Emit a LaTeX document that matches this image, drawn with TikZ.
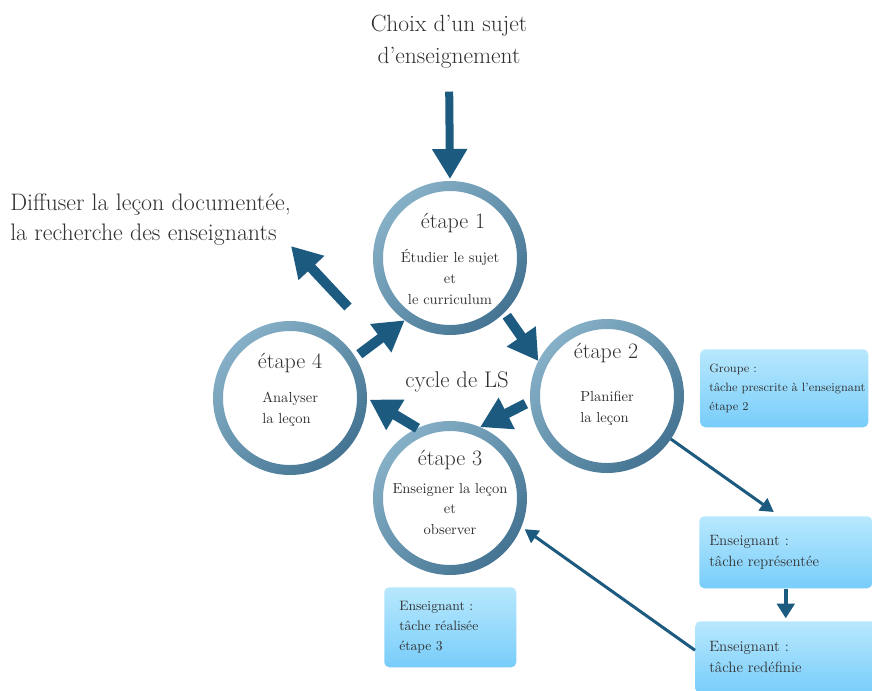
\documentclass[tikz,border=0pt]{standalone}
\usepackage{fontspec}
\usetikzlibrary{arrows.meta,calc}
\definecolor{ringlight}{RGB}{134,176,199}
\definecolor{ringdark}{RGB}{68,116,146}
\definecolor{arrowc}{RGB}{28,90,128}
\definecolor{boxtop}{RGB}{184,232,253}
\definecolor{boxbot}{RGB}{120,205,250}
\definecolor{txt}{RGB}{48,48,48}
\begin{document}
\begin{tikzpicture}[x=0.75pt,y=-0.75pt,
  every node/.style={text=txt, inner sep=0pt},
  stage/.style={circle, minimum size=115.5pt, outer sep=0pt},
  bigtxt/.style={font=\fontsize{17.6}{24}\selectfont},
  steptitle/.style={font=\fontsize{16.5}{18}\selectfont},
  steptext/.style={font=\fontsize{10.9}{15.5}\selectfont, align=center},
  infobox/.style={rectangle, rounded corners=3.75pt, top color=boxtop, bottom color=boxbot, align=left, anchor=north west},
  bigarrow/.style={draw=arrowc, line width=7.5pt, -{Triangle[length=22.5pt,width=25pt]}},
  thinarrow/.style={draw=arrowc, line width=2.25pt, -{Triangle[length=10pt,width=11pt]}}
]
\useasboundingbox (0,0) rectangle (872,690);
\fill[white] (0,0) rectangle (872,690);

% stage circles
\node[stage] (c1) at (450,258) {};
\node[stage] (c2) at (607,396) {};
\node[stage] (c3) at (450,498) {};
\node[stage] (c4) at (290,398) {};
\foreach \c in {c1,c2,c3,c4}
  \shade[even odd rule, top color=ringlight, bottom color=ringdark, shading angle=45]
    (\c) circle (57.75pt) (\c) circle (50.25pt);

% stage texts
\node[steptitle] (t1) at (453,223) {étape 1};
\node[steptext] (b1) at (450,277) {Étudier le sujet\\et\\le curriculum};
\node[steptitle] (t2) at (606,353) {étape 2};
\node[steptext, align=left, anchor=west] (b2) at (580,408) {Planifier\\la leçon};
\node[steptitle] (t3) at (450,460) {étape 3};
\node[steptext] (b3) at (450,509) {Enseigner la leçon\\et\\observer};
\node[steptitle] (t4) at (290,363) {étape 4};
\node[steptext, align=left, anchor=west] (b4) at (262,409) {Analyser\\la leçon};
\node[font=\fontsize{17}{20}\selectfont] (cyc) at (457,382) {cycle de LS};

% outer texts
\node[bigtxt, align=center] (choix) at (449,42) {Choix d'un sujet\\d'enseignement};
\node[font=\fontsize{17.9}{22.5}\selectfont, align=left, anchor=west] (diff) at (10,220) {Diffuser la leçon documentée,\\la recherche des enseignants};

% info boxes
\node[infobox, inner xsep=6.75pt, text width=112.5pt, minimum height=58.5pt, font=\fontsize{9}{14}\selectfont] (grp) at (700,349) {Groupe~:\\\mbox{tâche prescrite à l'enseignant}\\étape 2};
\node[infobox, inner xsep=7.5pt, text width=114.75pt, minimum height=54pt, font=\fontsize{11.2}{15.75}\selectfont] (rep) at (699,516) {Enseignant~:\\tâche représentée};
\node[infobox, inner xsep=10.5pt, text width=117.75pt, minimum height=54pt, font=\fontsize{11.2}{15.75}\selectfont] (red) at (695,621) {Enseignant~:\\tâche redéfinie};
\node[infobox, inner xsep=11.25pt, text width=76.5pt, minimum height=60pt, font=\fontsize{10.2}{15}\selectfont] (rea) at (384,587) {Enseignant~:\\tâche réalisée\\étape 3};

% big arrows
\draw[bigarrow, line width=6pt, shorten <=17pt, shorten >=1.5pt] (choix.south) -- (c1.north);
\draw[bigarrow, shorten <=3pt] (c1.-45) -- (c2.153);
\draw[bigarrow, shorten <=3.75pt] (c2.184) -- (c3.67);
\draw[bigarrow, shorten >=2.25pt] (c3.115) -- (c4.0);
\draw[bigarrow, shorten <=3.75pt] (c4.32) -- (c1.234);
\coordinate (ftail) at (348,307);
\draw[bigarrow] (ftail) -- (diff.south east);

% thin arrows
\draw[thinarrow] (c2.-34) -- ($(rep.north)+(-12,-4)$);
\draw[thinarrow, line width=3.4pt, -{Triangle[length=11pt,width=13pt]}, shorten >=2pt] (rep.south) -- (rep.south |- red.north);
\draw[thinarrow, shorten >=3pt] ($(red.west)+(0,-7)$) -- (c3.-22);
\end{tikzpicture}
\end{document}
